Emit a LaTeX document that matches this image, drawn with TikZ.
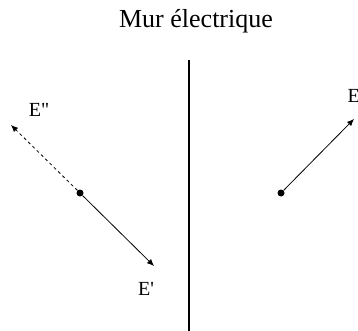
\documentclass[tikz,border=0pt]{standalone}
\usepackage{fontspec}
\setmainfont{Liberation Serif}[Ligatures=TeXOff]
\usetikzlibrary{arrows.meta}

\begin{document}
\begin{tikzpicture}[x=1pt, y=-1pt,
    vec/.style={-{Latex[length=7pt, width=6pt]}, line width=0.8pt},
    dot/.style={circle, fill=black, inner sep=0pt, minimum size=7pt},
    lbl/.style={font=\fontsize{20}{22}\selectfont}]
    \useasboundingbox (0,0) rectangle (358,331);
    \clip (0,0) rectangle (358,331);
    \node[font=\fontsize{26}{28}\selectfont, anchor=base] (title) at (196,28) {Mur électrique};
    % the wall
    \coordinate (wtop) at (189,60);
    \coordinate (wbot) at (189,331);
    \draw[line width=1.3pt] (wtop) -- (wbot);
    % left side: reflected and transmitted
    \node[dot] (o1) at (80,193) {};
    \coordinate (e1) at (154,266);
    \coordinate (e2) at (11,125);
    \draw[vec] (o1) -- (e1);
    \draw[vec, dash pattern=on 3pt off 3pt] (o1) -- (e2);
    \node[lbl, anchor=base] (l1) at (146,295) {E'};
    \node[lbl, anchor=base] (l2) at (39,117) {E"};
    % right side: incident
    \node[dot] (o2) at (281,193) {};
    \coordinate (e3) at (354,119);
    \draw[vec] (o2) -- (e3);
    \node[lbl, anchor=base west] (l3) at (344,103) {E};
\end{tikzpicture}
\end{document}
